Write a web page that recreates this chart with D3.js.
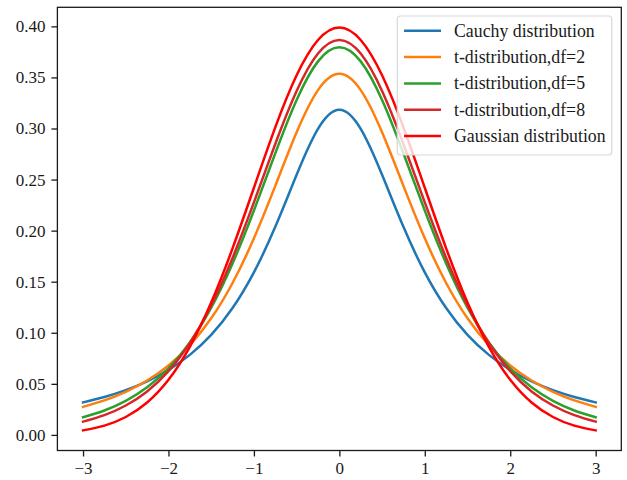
<!DOCTYPE html>
<html>
<head>
<meta charset="utf-8">
<script src="https://cdn.jsdelivr.net/npm/d3@7/dist/d3.min.js"></script>
<style>
  html, body { margin: 0; padding: 0; background: #fff; }
  svg { display: block; }
  text { font-family: "Liberation Serif", "Times New Roman", serif; fill: #1a1a1a; }
</style>
</head>
<body>
<svg id="chart" width="627" height="480"></svg>
<script>
// x positions of the sampled points
const xValues = [-3, -2.75, -2.5, -2.25, -2, -1.75, -1.5, -1.25, -1, -0.75, -0.5, -0.25, 0,
                 0.25, 0.5, 0.75, 1, 1.25, 1.5, 1.75, 2, 2.25, 2.5, 2.75, 3];

const cauchy = [0.03183, 0.03718, 0.04390, 0.05251, 0.06366, 0.07835, 0.09794, 0.12422, 0.15915, 0.20372, 0.25465, 0.29959, 0.31831,
                0.29959, 0.25465, 0.20372, 0.15915, 0.12422, 0.09794, 0.07835, 0.06366, 0.05251, 0.04390, 0.03718, 0.03183];
const tDf2 = [0.02741, 0.03382, 0.04220, 0.05328, 0.06804, 0.08779, 0.11413, 0.14872, 0.19245, 0.24378, 0.29630, 0.33761, 0.35355,
              0.33761, 0.29630, 0.24378, 0.19245, 0.14872, 0.11413, 0.08779, 0.06804, 0.05328, 0.04220, 0.03382, 0.02741];
const tDf5 = [0.01729, 0.02393, 0.03333, 0.04657, 0.06509, 0.09054, 0.12452, 0.16790, 0.21968, 0.27570, 0.32792, 0.36572, 0.37961,
              0.36572, 0.32792, 0.27570, 0.21968, 0.16790, 0.12452, 0.09054, 0.06509, 0.04657, 0.03333, 0.02393, 0.01729];
const tDf8 = [0.01301, 0.01936, 0.02878, 0.04257, 0.06237, 0.08994, 0.12677, 0.17326, 0.22762, 0.28482, 0.33670, 0.37339, 0.38670,
              0.37339, 0.33670, 0.28482, 0.22762, 0.17326, 0.12677, 0.08994, 0.06237, 0.04257, 0.02878, 0.01936, 0.01301];
const gaussian = [0.00443, 0.00909, 0.01753, 0.03174, 0.05399, 0.08628, 0.12952, 0.18265, 0.24197, 0.30114, 0.35207, 0.38667, 0.39894,
                  0.38667, 0.35207, 0.30114, 0.24197, 0.18265, 0.12952, 0.08628, 0.05399, 0.03174, 0.01753, 0.00909, 0.00443];

const seriesNames = ["Cauchy distribution", "t-distribution,df=2", "t-distribution,df=5", "t-distribution,df=8", "Gaussian distribution"];
const seriesColors = ["#1f77b4", "#ff7f0e", "#2ca02c", "#d62728", "#ff0000"];
const xTicks = [-3, -2, -1, 0, 1, 2, 3];
const yTicks = [0.00, 0.05, 0.10, 0.15, 0.20, 0.25, 0.30, 0.35, 0.40];

const seriesValues = [cauchy, tDf2, tDf5, tDf8, gaussian];

const svg = d3.select("#chart");
const plot = { left: 57.4, right: 621.3, top: 7.3, bottom: 450.5 };

const x = d3.scaleLinear().domain([-3.3, 3.3]).range([plot.left, plot.right]);
const y = d3.scaleLinear().domain([-0.01527, 0.41866]).range([plot.bottom, plot.top]);

// curves
const line = d3.line()
  .x((d, i) => x(xValues[i]))
  .y(d => y(d))
  .curve(d3.curveNatural);

svg.append("defs").append("clipPath").attr("id", "clip")
  .append("rect")
  .attr("x", plot.left).attr("y", plot.top)
  .attr("width", plot.right - plot.left).attr("height", plot.bottom - plot.top);

const g = svg.append("g").attr("clip-path", "url(#clip)");
seriesValues.forEach((vals, k) => {
  g.append("path")
    .datum(vals)
    .attr("d", line)
    .attr("fill", "none")
    .attr("stroke", seriesColors[k])
    .attr("stroke-width", 2.5)
    .attr("stroke-linejoin", "round")
    .attr("stroke-linecap", "square");
});

// axes
const xAxis = d3.axisBottom(x).tickValues(xTicks).tickSize(6).tickPadding(5)
  .tickFormat(d => d < 0 ? "\u2212" + Math.abs(d) : String(d));
const yAxis = d3.axisLeft(y).tickValues(yTicks).tickSize(6).tickPadding(6)
  .tickFormat(d3.format(".2f"));

const gx = svg.append("g").attr("transform", `translate(0,${plot.bottom})`).call(xAxis);
const gy = svg.append("g").attr("transform", `translate(${plot.left},0)`).call(yAxis);
[gx, gy].forEach(ax => {
  ax.select(".domain").remove();
  ax.selectAll(".tick line").attr("stroke", "#1a1a1a").attr("stroke-width", 1.3);
  ax.selectAll(".tick text").style("font-size", "17px").attr("fill", "#1a1a1a");
});

// frame
svg.append("rect")
  .attr("x", plot.left).attr("y", plot.top)
  .attr("width", plot.right - plot.left).attr("height", plot.bottom - plot.top)
  .attr("fill", "none").attr("stroke", "#1a1a1a").attr("stroke-width", 1.3);

// legend
const legend = svg.append("g");
legend.append("rect")
  .attr("x", 397.3).attr("y", 16)
  .attr("width", 214.4).attr("height", 139)
  .attr("rx", 3).attr("ry", 3)
  .attr("fill", "#fff").attr("fill-opacity", 0.8)
  .attr("stroke", "#d8d8d8").attr("stroke-width", 1.2);

seriesNames.forEach((name, k) => {
  const cy = 30.7 + k * 26.35;
  legend.append("line")
    .attr("x1", 404).attr("x2", 441)
    .attr("y1", cy).attr("y2", cy)
    .attr("stroke", seriesColors[k]).attr("stroke-width", 2.5);
  legend.append("text")
    .attr("x", 454).attr("y", cy)
    .attr("dy", "0.33em")
    .style("font-size", "17.8px")
    .text(name);
});
</script>
</body>
</html>
